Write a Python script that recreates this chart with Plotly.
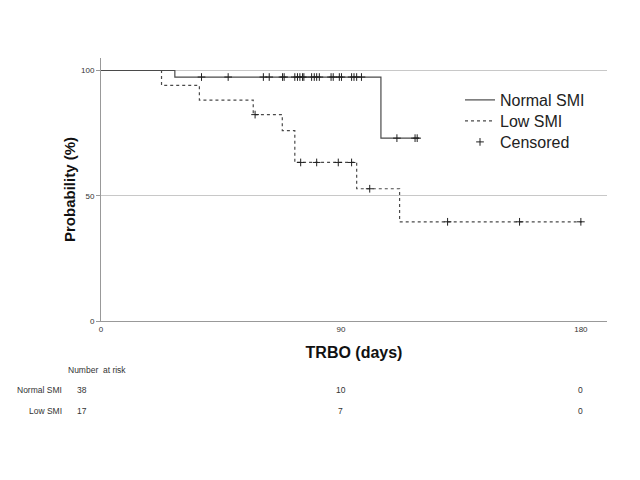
import plotly.graph_objects as go

# Normal SMI step curve
normal_t = [0, 27.7, 105.0, 119.5]
normal_s = [100, 97.4, 73.0, 73.0]
normal_cens_t = [37.7, 47.7, 60.9, 63.1, 68.1, 68.7, 72.7, 73.7, 74.6, 75.6, 76.1,
                 79.0, 80.0, 80.9, 81.9, 86.3, 87.1, 89.4, 90.2, 94.0, 94.9, 95.9, 97.7]
normal_cens_s = [97.4] * len(normal_cens_t)
normal_cens2_t = [111.0, 117.8, 118.6]
normal_cens2_s = [73.0, 73.0, 73.0]

# Low SMI step curve
low_t = [0, 22.7, 36.9, 57.1, 68.0, 72.7, 95.9, 112.0, 180.3]
low_s = [100, 94.1, 88.2, 82.4, 76.0, 63.3, 52.8, 39.6, 39.6]
low_cens_t = [57.8, 74.9, 80.9, 89.0, 94.0, 100.8, 130.0, 157.0, 180.0]
low_cens_s = [82.4, 63.3, 63.3, 63.3, 63.3, 52.8, 39.6, 39.6, 39.6]

# Number at risk
risk_times = [0, 90, 180]
risk_normal = [38, 10, 0]
risk_low = [17, 7, 0]

x_ticks = [0, 90, 180]
y_ticks = [0, 50, 100]

OFF = 8  # page body margin
L, R, T, B = 101 - OFF, 607 - OFF, 58 - OFF, 321 - OFF

def pix_x(px):
    return (px - OFF - L) / (R - L)
def pix_y(py):
    return (B - (py - OFF)) / (B - T)

line_col = "#4a4a4a"
fig = go.Figure()
fig.add_trace(go.Scatter(x=normal_t, y=normal_s, mode="lines", line_shape="hv",
                         line=dict(color=line_col, width=1.2), name="Normal SMI",
                         legend="legend"))
fig.add_trace(go.Scatter(x=low_t, y=low_s, mode="lines", line_shape="hv",
                         line=dict(color=line_col, width=1.2, dash="dot"), name="Low SMI",
                         legend="legend2"))
cx = normal_cens_t + normal_cens2_t + low_cens_t
cy = normal_cens_s + normal_cens2_s + low_cens_s
fig.add_trace(go.Scatter(x=cx, y=cy, mode="markers", name="Censored", legend="legend3",
                         marker=dict(symbol="cross-thin", size=5.5,
                                     line=dict(color="#202020", width=1))))

fs = dict(family="Liberation Sans", size=8.5, color="#333")
annotations = []
annotations.append(dict(text="Number  at risk", x=pix_x(128), y=pix_y(370), xref="paper",
                        yref="paper", xanchor="right", yanchor="middle", showarrow=False, font=fs))
annotations.append(dict(text="Normal SMI", x=pix_x(64), y=pix_y(390), xref="paper",
                        yref="paper", xanchor="right", yanchor="middle", showarrow=False, font=fs))
annotations.append(dict(text="Low SMI", x=pix_x(64), y=pix_y(411), xref="paper",
                        yref="paper", xanchor="right", yanchor="middle", showarrow=False, font=fs))
for t, a, b in zip(risk_times, risk_normal, risk_low):
    shift = -19 if t == 0 else 0
    annotations.append(dict(text=str(a), x=t, xshift=shift, y=pix_y(390), xref="x", yref="paper",
                            xanchor="center", yanchor="middle", showarrow=False, font=fs))
    annotations.append(dict(text=str(b), x=t, xshift=shift, y=pix_y(411), xref="x", yref="paper",
                            xanchor="center", yanchor="middle", showarrow=False, font=fs))

def leg(py):
    return dict(x=pix_x(460), y=pix_y(py), xanchor="left", yanchor="middle",
                font=dict(size=16, color="#222"), bgcolor="rgba(0,0,0,0)", itemwidth=30)

fig.update_layout(
    width=640, height=480,
    margin=dict(l=L, r=640 - R, t=T, b=480 - B),
    plot_bgcolor="white", paper_bgcolor="white",
    font=dict(family="Liberation Sans", color="#222"),
    showlegend=True,
    legend=leg(100), legend2=leg(121), legend3=leg(142),
    annotations=annotations,
    xaxis=dict(range=[0, 189.8], tickvals=x_ticks, showgrid=False, zeroline=False,
               showline=True, linecolor="#999", linewidth=1, ticks="",
               tickfont=dict(size=8, color="#333"), automargin=False,
               title=dict(text="<b>TRBO (days)</b>", font=dict(size=16, color="#111"),
                          standoff=14)),
    yaxis=dict(range=[0, 105], tickvals=y_ticks, showgrid=True, gridcolor="#c8c8c8",
               gridwidth=1, zeroline=False, showline=True, linecolor="#999", linewidth=1,
               ticks="outside", ticklen=4, tickcolor="#999", automargin=False,
               tickfont=dict(size=8, color="#333"),
               title=dict(text="<b>Probability (%)</b>", font=dict(size=15, color="#111"),
                          standoff=1)),
)
fig.write_html("out.html")
